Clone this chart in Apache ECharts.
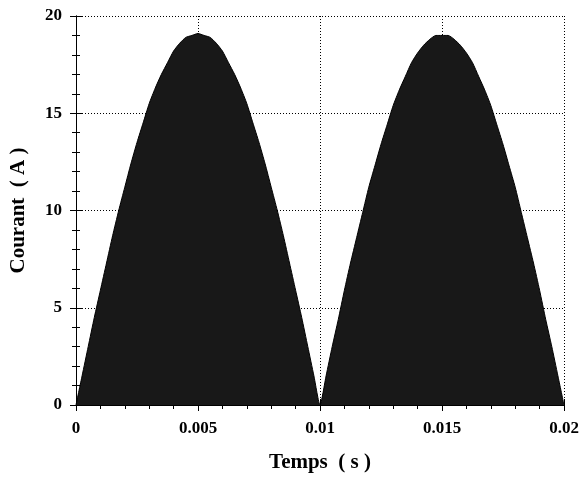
<!DOCTYPE html>
<html><head><meta charset="utf-8">
<script src="https://cdn.jsdelivr.net/npm/echarts@6/dist/echarts.min.js"></script>
<style>html,body{margin:0;padding:0;background:#fff}#c{width:582px;height:477px}</style>
</head><body><div id="c"></div>
<script>
const arc1 = [0,1.5,3.0,4.5,5.9,7.3,8.7,10.0,11.2,12.4,13.5,14.5,15.5,16.3,17.0,17.6,18.2,18.6,18.9,19.0,19.1,
  19.0,18.9,18.6,18.2,17.6,17.0,16.3,15.5,14.5,13.5,12.4,11.2,10.0,8.7,7.3,5.9,4.5,3.0,1.5,0];
const arc2 = [1.5,3.0,4.4,5.9,7.3,8.6,9.9,11.2,12.3,13.4,14.4,15.4,16.2,16.9,17.6,18.1,18.5,18.8,19.0,19.0,
  19.0,18.8,18.5,18.1,17.6,16.9,16.2,15.4,14.4,13.4,12.3,11.2,9.9,8.6,7.3,5.9,4.4,3.0,1.5,0];
const current = arc1.concat(arc2);
const timeStep = 0.00025;
const xTicks = ['0','0.005','0.01','0.015','0.02'];
const yTicks = ['0','5','10','15','20'];

const font = '"Liberation Serif", "DejaVu Serif", serif';
const chart = echarts.init(document.getElementById('c'));
const line = {lineStyle:{color:'#000',width:1}};
chart.setOption({
  animation:false,
  grid: {left:76,right:18,top:16,bottom:72,outerBoundsMode:'none',containLabel:false},
  xAxis: [{
    type:'value', min:0, max:0.02, interval:0.005,
    name:'Temps  ( s )', nameLocation:'middle', nameGap:47,
    nameTextStyle:{fontFamily:font,fontWeight:'bold',fontSize:21,color:'#000'},
    axisLine:line,
    axisTick:{inside:true,length:6,lineStyle:{color:'#000'}},
    minorTick:{show:true,splitNumber:5,length:4,lineStyle:{color:'#000'}},
    axisLabel:{margin:15,fontFamily:font,fontWeight:'bold',fontSize:17,color:'#000',
      formatter:v=>{const i=Math.round(v/0.005);return xTicks[i]!==undefined?xTicks[i]:'';}},
    splitLine:{show:true,lineStyle:{color:'#000',type:[1,2],width:1}}
  },{
    type:'value', min:0, max:0.02, interval:0.005, position:'top',
    axisLine:line,
    axisTick:{inside:true,length:6,lineStyle:{color:'#000'}},
    minorTick:{show:true,splitNumber:5,length:4,lineStyle:{color:'#000'}},
    axisLabel:{show:false}, splitLine:{show:false}
  }],
  yAxis: [{
    type:'value', min:0, max:20, interval:5,
    name:'Courant  ( A )', nameLocation:'middle', nameGap:47,
    nameTextStyle:{fontFamily:font,fontWeight:'bold',fontSize:21,color:'#000'},
    axisLine:{show:true,lineStyle:{color:'#000',width:1}},
    axisTick:{show:true,inside:true,length:6,lineStyle:{color:'#000'}},
    minorTick:{show:true,splitNumber:5,length:4,lineStyle:{color:'#000'}},
    axisLabel:{margin:14,fontFamily:font,fontWeight:'bold',fontSize:17,color:'#000',
      formatter:v=>{const i=Math.round(v/5);return yTicks[i]!==undefined?yTicks[i]:'';}},
    splitLine:{show:true,lineStyle:{color:'#000',type:[1,2],width:1}}
  },{
    type:'value', min:0, max:20, interval:5, position:'right',
    axisLine:{show:true,lineStyle:{color:'#000',width:1}},
    axisTick:{show:true,inside:true,length:6,lineStyle:{color:'#000'}},
    minorTick:{show:true,splitNumber:5,length:4,lineStyle:{color:'#000'}},
    axisLabel:{show:false}, splitLine:{show:false}
  }],
  series: [{
    type:'line', data: current.map((v,i)=>[i*timeStep,v]),
    showSymbol:false, smooth:0.2,
    lineStyle:{color:'#000',width:1},
    areaStyle:{color:'#181818',opacity:1}
  }]
});
</script></body></html>
